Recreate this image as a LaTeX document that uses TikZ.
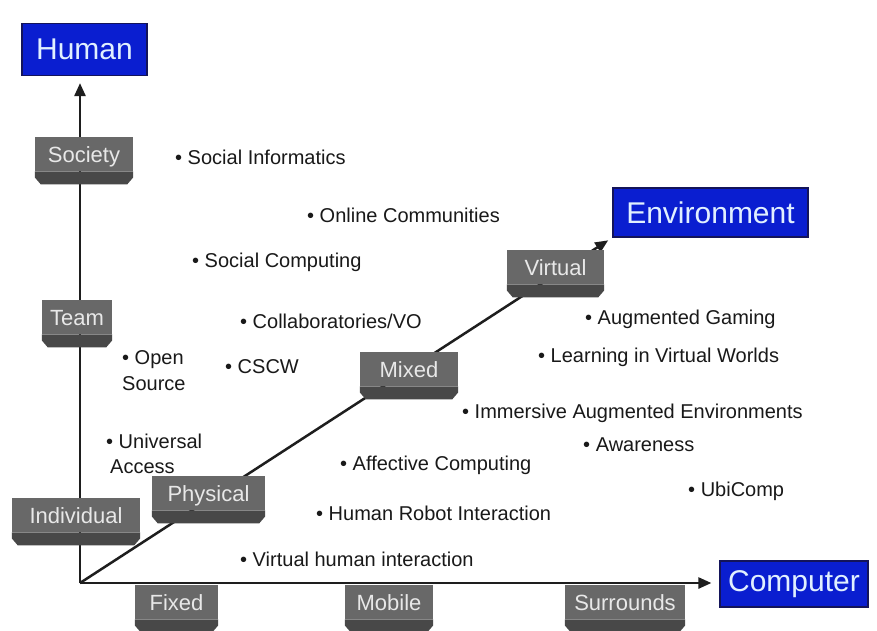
\documentclass[tikz,border=0pt]{standalone}
\usepackage{fontspec}
\setmainfont{Liberation Sans}
\usetikzlibrary{arrows.meta}
\definecolor{boxblue}{RGB}{10,30,208}
\definecolor{boxblueedge}{RGB}{20,20,90}
\definecolor{bluetext}{RGB}{225,240,255}
\definecolor{gtopc}{RGB}{104,104,104}
\definecolor{gbotc}{RGB}{72,72,72}
\definecolor{gtext}{RGB}{232,232,232}
\definecolor{axisc}{RGB}{30,30,30}
\definecolor{itemc}{RGB}{25,25,25}
\newcommand{\gbox}[5]{%
  \node[gtop, minimum width=#4] (#1) at (#2,#3) {#5};
  \fill[gbotc] (#1.south west) -- (#1.south east) -- ([yshift=-6pt]#1.south east)
    -- ([xshift=-6pt,yshift=-13pt]#1.south east) -- ([xshift=6pt,yshift=-13pt]#1.south west)
    -- ([yshift=-6pt]#1.south west) -- cycle;
}
\begin{document}
\begin{tikzpicture}[x=1pt,y=-1pt,
  bluebox/.style={fill=boxblue, draw=boxblueedge, line width=1.2pt, text=bluetext,
    font=\fontsize{30}{34}\selectfont, inner sep=0pt},
  gtop/.style={fill=gtopc, text=gtext, font=\fontsize{22}{26}\selectfont,
    minimum height=34pt, inner sep=0pt, text height=16pt, text depth=0pt, anchor=north},
  axis/.style={draw=axisc, line width=2.5pt, -{Triangle[length=13pt,width=11pt]}},
  bul/.style={anchor=base west, inner sep=0pt, text=itemc, font=\fontsize{20}{24}\selectfont}]
\useasboundingbox[fill=white] (0,0) rectangle (877,630);

% blue end boxes
\node[bluebox, minimum width=125pt, minimum height=52pt] (human) at (84.5,49.5) {Human};
\node[bluebox, minimum width=195pt, minimum height=49pt] (env) at (710.5,212.5) {Environment};
\node[bluebox, minimum width=148pt, minimum height=46pt] (computer) at (794,584) {Computer};

% axes
\coordinate (o) at (80,583);
\draw[axis, shorten >=7pt] (o) -- (o |- human.south);
\draw[axis, shorten >=8pt] (o) -- (o -| computer.west);
\draw[axis, shorten >=5pt] (o) -- (env.south west);

% gray boxes
\gbox{society}{84}{137}{98pt}{Society}
\gbox{team}{77}{300}{70pt}{Team}
\gbox{individual}{76}{498}{128pt}{Individual}
\gbox{physical}{208.5}{476}{113pt}{Physical}
\gbox{mixed}{409}{352}{98pt}{Mixed}
\gbox{virtual}{555.5}{250}{97pt}{Virtual}
\gbox{fixed}{176.5}{585}{83pt}{Fixed}
\gbox{mobile}{389}{585}{88pt}{Mobile}
\gbox{surrounds}{625}{585}{120pt}{Surrounds}

% items
\node[bul] (t1) at (175,164) {• Social Informatics};
\node[bul] (t2) at (307,222) {• Online Communities};
\node[bul] (t3) at (192,267) {• Social Computing};
\node[bul] (t4) at (240,328) {• Collaboratories/VO};
\node[bul] (t5a) at (122,364) {• Open};
\node[bul] (t5b) at (122,390) {Source};
\node[bul] (t6) at (225,373) {• CSCW};
\node[bul] (t7a) at (106,448) {• Universal};
\node[bul] (t7b) at (110,473) {Access};
\node[bul] (t8) at (585,324) {• Augmented Gaming};
\node[bul] (t9) at (538,362) {• Learning in Virtual Worlds};
\node[bul] (t10) at (462,418) {• Immersive Augmented Environments};
\node[bul] (t11) at (583,451) {• Awareness};
\node[bul] (t12) at (688,496) {• UbiComp};
\node[bul] (t13) at (340,470) {• Affective Computing};
\node[bul] (t14) at (316,520) {• Human Robot Interaction};
\node[bul] (t15) at (240,566) {• Virtual human interaction};
\end{tikzpicture}
\end{document}
